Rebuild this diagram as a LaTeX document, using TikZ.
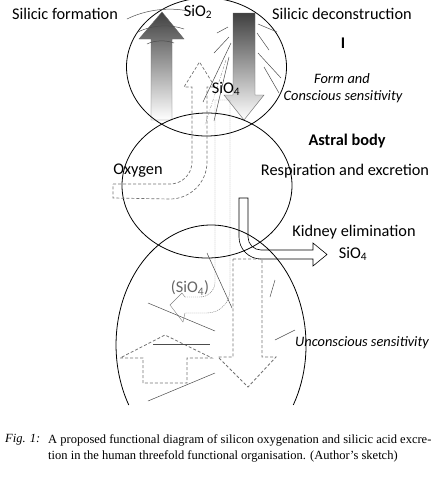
\documentclass[tikz,border=0pt]{standalone}
\usepackage{fontspec}
\setmainfont{Carlito}
\newfontfamily\capfont{Liberation Serif}
\begin{document}
\begin{tikzpicture}[x=1pt,y=-1pt,
  lbl/.style={font=\fontsize{16.3}{19}\selectfont, inner sep=0pt},
  itl/.style={font=\fontsize{14.4}{17}\selectfont\itshape, inner sep=0pt},
  captext/.style={font=\capfont\fontsize{12.5}{15}\selectfont, inner sep=0pt, anchor=west},
  body/.style={draw=black, line width=0.8pt},
  sketch/.style={draw=black!70, line width=0.5pt},
  dsh/.style={draw=black!55, line width=0.7pt, dash pattern=on 3pt off 2pt},
  dots/.style={draw=black!60, line width=0.4pt, dash pattern=on 1pt off 1pt},
  grad/.style={top color=black!75, bottom color=white, draw=black!60, line width=0.4pt}]
\useasboundingbox (0,0) rectangle (439,480);

% gradient arrows
\path[grad] (151,120) -- (151,39) -- (139,39) -- (162,12) -- (184,39)
  -- (172,39) -- (172,120) -- cycle;
\path[grad] (233,13) -- (255,13) -- (255,95) -- (264,95) -- (244,120)
  -- (224,95) -- (233,95) -- cycle;

% kidney arrow
\draw[black, line width=0.6pt, fill=white] (239,198) -- (248,198) -- (248,237)
  arc[start angle=180, end angle=270, radius=13pt] -- (313,250) -- (313,243)
  -- (327,254.5) -- (313,266) -- (313,259) -- (261,259)
  arc[start angle=270, end angle=180, radius=22pt] -- cycle;

% the three bodies
\draw[body] (206.5,67) ellipse [x radius=80pt, y radius=69pt];
\draw[body] (207,185.5) ellipse [x radius=85pt, y radius=72.5pt];
\draw[body] (293.3,405) arc[start angle=-30, end angle=210, x radius=95pt, y radius=120pt];

% rays round the arrows
\draw[sketch] (127,19) .. controls (145,10) and (170,6) .. (192,12);
\draw[sketch] (138,32) .. controls (152,25) and (170,24) .. (184,29);
\draw[sketch] (147,44) .. controls (155,40) and (166,40) .. (174,43);
\draw[sketch] (217,33) -- (228,27);
\draw[sketch] (214,53) -- (229,37);
\draw[sketch] (231,43) -- (203,102);
\draw[sketch] (229,57) -- (214,121);
\draw[draw=black!45, line width=0.4pt, dash pattern=on 3pt off 1.5pt on 0.8pt off 1.5pt] (226,60) -- (205,125);
\draw[sketch] (258,24) -- (277,32);
\draw[sketch] (257,33) -- (269,50);
\draw[sketch] (258,53) -- (281,78);
\draw[sketch] (264,67) -- (279,93);

% oxygen arrow
\draw[dsh] (113,184) -- (170,184) arc[start angle=270, end angle=360, radius=22pt]
  -- (192,87) -- (184,87) -- (199.5,62) -- (215,87) -- (207,87) -- (207,162)
  arc[start angle=0, end angle=-90, radius=37pt] -- (113,198) -- cycle;

% SiO4 arrow
\draw[dots] (185,297) -- (200,297) arc[start angle=270, end angle=360, radius=15pt]
  -- (215,100) -- (230,100) -- (230,290) arc[start angle=0, end angle=-90, radius=23pt]
  -- (185,313);
\draw[draw=black!50, line width=0.4pt] (185,297) -- (182,293) -- (170,305)
  -- (183,322) -- (185,313);

% lower arrows
\draw[dsh, line width=0.8pt] (233,259) -- (262,259) -- (262,357) -- (276,357)
  -- (248,387) -- (218,357) -- (233,357) -- cycle;
\draw[dsh, line width=0.8pt] (143,383) -- (143,358) -- (120,358) -- (165,335)
  -- (212,358) -- (187,358) -- (187,383) -- cycle;

% strokes in the lower body
\draw[sketch] (207,253) -- (232,308);
\draw[sketch] (148,303) -- (215,331);
\draw[sketch] (153,344) -- (210,344);
\draw[sketch] (148,401) -- (215,373);
\draw[sketch] (270,297) -- (275,280);
\draw[sketch] (275,340) -- (295,330);

% labels
\node[lbl] (form) at (65,14) {Silicic formation};
\node[lbl] (sio2) at (198,12) {SiO\textsubscript{2}};
\node[lbl] (decon) at (342,14) {Silicic deconstruction};
\node[lbl, font=\fontsize{16.3}{19}\selectfont\bfseries] (ego) at (343,43) {I};
\node[itl] (formand) at (342,79) {Form and};
\node[itl] (conscious) at (343,97) {Conscious sensitivity};
\node[lbl] (sio4top) at (226,89) {SiO\textsubscript{4}};
\node[lbl, font=\fontsize{16.3}{19}\selectfont\bfseries] (astral) at (347,141) {Astral body};
\node[lbl] (oxygen) at (138,171) {Oxygen};
\node[lbl] (resp) at (345,171) {Respiration and excretion};
\node[lbl] (kidney) at (354,232) {Kidney elimination};
\node[lbl] (sio4kid) at (353,254) {SiO\textsubscript{4}};
\node[lbl, text=black!60] (sio4low) at (190,288) {(SiO\textsubscript{4})};
\node[itl] (unconscious) at (362,343) {Unconscious sensitivity};

% caption
\node[captext] (fig) at (5,440) {\itshape Fig. 1:};
\node[captext] (capa) at (48,440) {A proposed functional diagram of silicon oxygenation and silicic acid excre-};
\node[captext] (capb) at (48,456) {tion in the human threefold functional organisation. (Author’s sketch)};
\end{tikzpicture}
\end{document}
